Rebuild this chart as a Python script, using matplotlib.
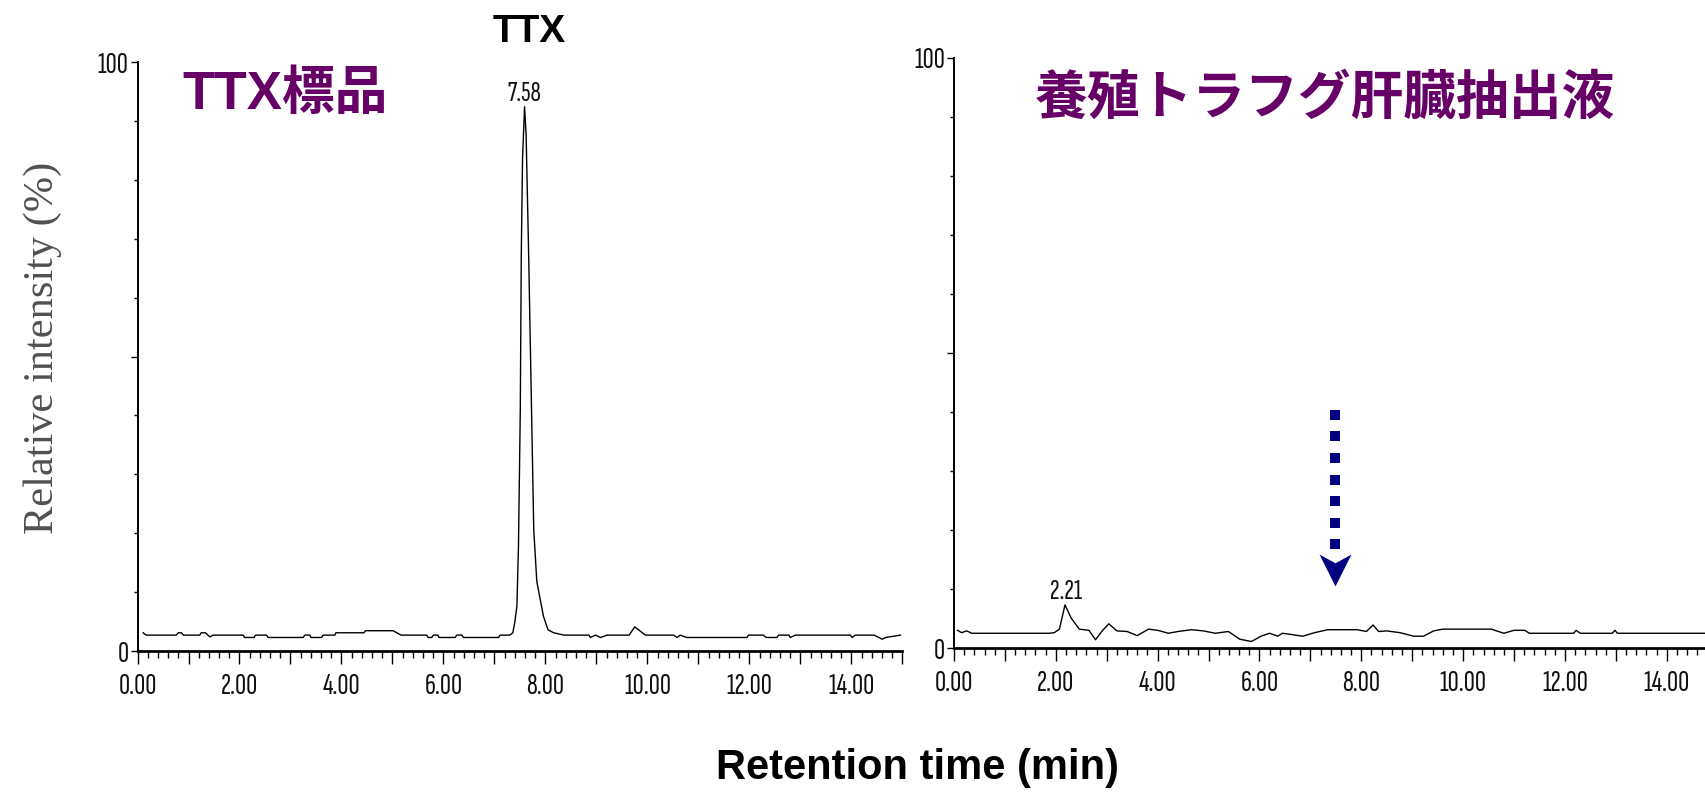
import matplotlib
matplotlib.use('Agg')
import matplotlib.pyplot as plt
from matplotlib.path import Path
from matplotlib.ticker import MultipleLocator, FuncFormatter
import numpy as np

# chromatogram traces: (time in min, relative intensity in %)
std_time = [0.11, 0.17, 0.76, 0.80, 0.86, 0.90, 1.22, 1.25, 1.33, 1.42, 1.48, 2.07, 2.10,
            2.29, 2.31, 2.53, 2.56, 3.25, 3.28, 3.38, 3.40, 3.61, 3.64, 3.87, 3.89, 4.44,
            4.47, 5.01, 5.17, 5.67, 5.70, 5.77, 5.80, 5.89, 5.91, 6.23, 6.26, 6.36, 6.39,
            7.08, 7.11, 7.30, 7.36, 7.40, 7.44, 7.47, 7.506, 7.525, 7.55, 7.59, 7.62, 7.67,
            7.72, 7.77, 7.83, 7.96, 8.05, 8.16, 8.36, 8.85, 8.88, 8.98, 9.08, 9.21, 9.64,
            9.75, 9.96, 10.51, 10.58, 10.64, 10.77, 11.95, 11.98, 12.27, 12.33, 12.54, 12.57,
            12.77, 12.80, 12.90, 13.98, 14.01, 14.08, 14.44, 14.54, 14.60, 14.67, 14.96]
std_int = [3.1, 2.7, 2.7, 3.1, 3.1, 2.7, 2.7, 3.1, 3.1, 2.4, 2.7, 2.7, 2.3,
           2.3, 2.7, 2.7, 2.3, 2.3, 2.7, 2.7, 2.3, 2.3, 2.7, 2.7, 3.1, 3.1,
           3.45, 3.45, 2.7, 2.7, 2.3, 2.3, 2.7, 2.7, 2.3, 2.3, 2.7, 2.7, 2.3,
           2.3, 2.7, 2.7, 3.1, 5.0, 7.7, 17.7, 41.0, 67.0, 83.6, 92.4, 87.7, 67.3,
           43.9, 20.5, 11.8, 5.9, 3.6, 3.1, 2.7, 2.7, 2.3, 2.7, 2.3, 2.7, 2.7,
           4.1, 2.7, 2.7, 2.3, 2.7, 2.3, 2.3, 2.7, 2.7, 2.3, 2.3, 2.7,
           2.7, 2.3, 2.7, 2.7, 2.3, 2.7, 2.7, 2.3, 2.0, 2.3, 2.7]

liver_time = [0.07, 0.15, 0.25, 0.35, 1.87, 1.97, 2.07, 2.18, 2.30, 2.46, 2.65, 2.78, 2.91,
              3.04, 3.20, 3.40, 3.60, 3.82, 4.00, 4.21, 4.40, 4.66, 4.90, 5.13, 5.39, 5.61,
              5.84, 6.03, 6.20, 6.36, 6.45, 6.62, 6.85, 7.08, 7.34, 7.92, 8.10, 8.23, 8.34,
              8.50, 8.76, 9.03, 9.22, 9.42, 9.60, 10.56, 10.62, 10.80, 11.00, 11.21, 11.30,
              12.17, 12.22, 12.30, 12.93, 12.98, 13.03, 14.77]
liver_int = [3.0, 2.6, 2.9, 2.5, 2.5, 2.6, 3.2, 7.3, 5.1, 3.2, 3.0, 1.4, 2.9,
             4.1, 2.9, 2.8, 2.1, 3.2, 3.0, 2.5, 2.8, 3.1, 2.9, 2.5, 2.8, 1.5,
             1.1, 2.0, 2.5, 2.0, 2.5, 2.3, 2.0, 2.6, 3.1, 3.1, 2.8, 3.9, 2.8,
             2.9, 2.6, 2.0, 2.0, 2.9, 3.2, 3.2, 3.0, 2.5, 3.0, 3.0, 2.5,
             2.5, 3.0, 2.5, 2.5, 3.0, 2.5, 2.5]

std_peaks = [7.58]
liver_peaks = [2.21]
std_title = 'TTX標品'
liver_title = '養殖トラフグ肝臓抽出液'
arrow_time = 7.49

purple = '#660066'
navy = '#000080'
narrow = ['Sofia Sans Extra Condensed', 'Roboto Condensed', 'DejaVu Sans']
title_font = ['Liberation Sans', 'Noto Sans CJK JP']

fig = plt.figure(figsize=(17.06, 7.92), dpi=100)
ax1 = fig.add_axes([0.0806, 0.178, 0.4484, 0.7437])
ax2 = fig.add_axes([0.5592, 0.1818, 0.4408, 0.745])


def style_axes(ax, xmax):
    ax.set_xlim(0, xmax)
    ax.set_ylim(0, 100)
    ax.spines['top'].set_visible(False)
    ax.spines['right'].set_visible(False)
    ax.spines['bottom'].set_linewidth(2.0)
    ax.spines['left'].set_linewidth(1.4)
    ax.xaxis.set_major_locator(MultipleLocator(1))
    ax.xaxis.set_minor_locator(MultipleLocator(0.2))
    ax.xaxis.set_major_formatter(FuncFormatter(
        lambda v, p: '%.2f' % v if round(v) % 2 == 0 else ''))
    ax.yaxis.set_major_locator(MultipleLocator(50))
    ax.yaxis.set_minor_locator(MultipleLocator(10))
    ax.yaxis.set_major_formatter(FuncFormatter(
        lambda v, p: '%d' % v if v in (0, 100) else ''))
    ax.tick_params(axis='x', which='major', length=9.5, width=1.0, pad=6)
    ax.tick_params(axis='x', which='minor', length=5, width=1.0)
    ax.tick_params(axis='y', which='major', length=5, width=1.0, pad=1.5)
    ax.tick_params(axis='y', which='minor', length=3, width=1.0)
    for lab in ax.get_xticklabels() + ax.get_yticklabels():
        lab.set_family(narrow)
        lab.set_fontsize(22)
        lab.set_color('#111111')


style_axes(ax1, 15.0)
style_axes(ax2, 14.77)

ax1.plot(std_time, std_int, color='black', lw=1.0)
ax2.plot(liver_time, liver_int, color='black', lw=1.0)

# peak retention time labels above the apex
for ax, t_arr, i_arr, peaks in [(ax1, std_time, std_int, std_peaks),
                                (ax2, liver_time, liver_int, liver_peaks)]:
    for pk in peaks:
        idx = int(np.argmin(np.abs(np.array(t_arr) - pk)))
        ax.annotate('%.2f' % pk, xy=(pk, i_arr[idx]), xytext=(0, 9.5),
                    textcoords='offset points', ha='center', va='center',
                    fontsize=21, family=narrow, color='#111111')

# dotted arrow pointing at the (missing) TTX position
dot_y = np.linspace(39.5, 17.6, 7)
ax2.scatter([arrow_time] * len(dot_y), dot_y, marker='s', s=52, color=navy,
            linewidths=0, zorder=3)
head = Path([(-1, 1), (0, 0.45), (1, 1), (0, -1), (-1, 1)],
            [Path.MOVETO, Path.LINETO, Path.LINETO, Path.LINETO, Path.CLOSEPOLY])
ax2.scatter([arrow_time], [13.2], marker=head, s=23 ** 2, color=navy,
            linewidths=0, zorder=3)

fig.text(0.1067, 0.880, std_title, color=purple, fontsize=38, fontweight='bold',
         family=title_font, ha='left', va='center')
fig.text(0.7767, 0.874, liver_title, color=purple, fontsize=38, fontweight='bold',
         family=title_font, ha='center', va='center')
fig.text(0.310, 0.960, 'TTX', color='black', fontsize=28, fontweight='bold',
         family=['Liberation Sans', 'DejaVu Sans'], ha='center', va='center')
fig.text(0.538, 0.030, 'Retention time (min)', color='black', fontsize=30,
         fontweight='bold', family=['Liberation Sans', 'DejaVu Sans'],
         ha='center', va='center')
fig.text(0.025, 0.561, 'Relative intensity (%)', color='#505050', fontsize=30.5,
         family=['Liberation Serif', 'DejaVu Serif'], rotation=90,
         ha='center', va='center')

fig.savefig('out.png', dpi=100)
